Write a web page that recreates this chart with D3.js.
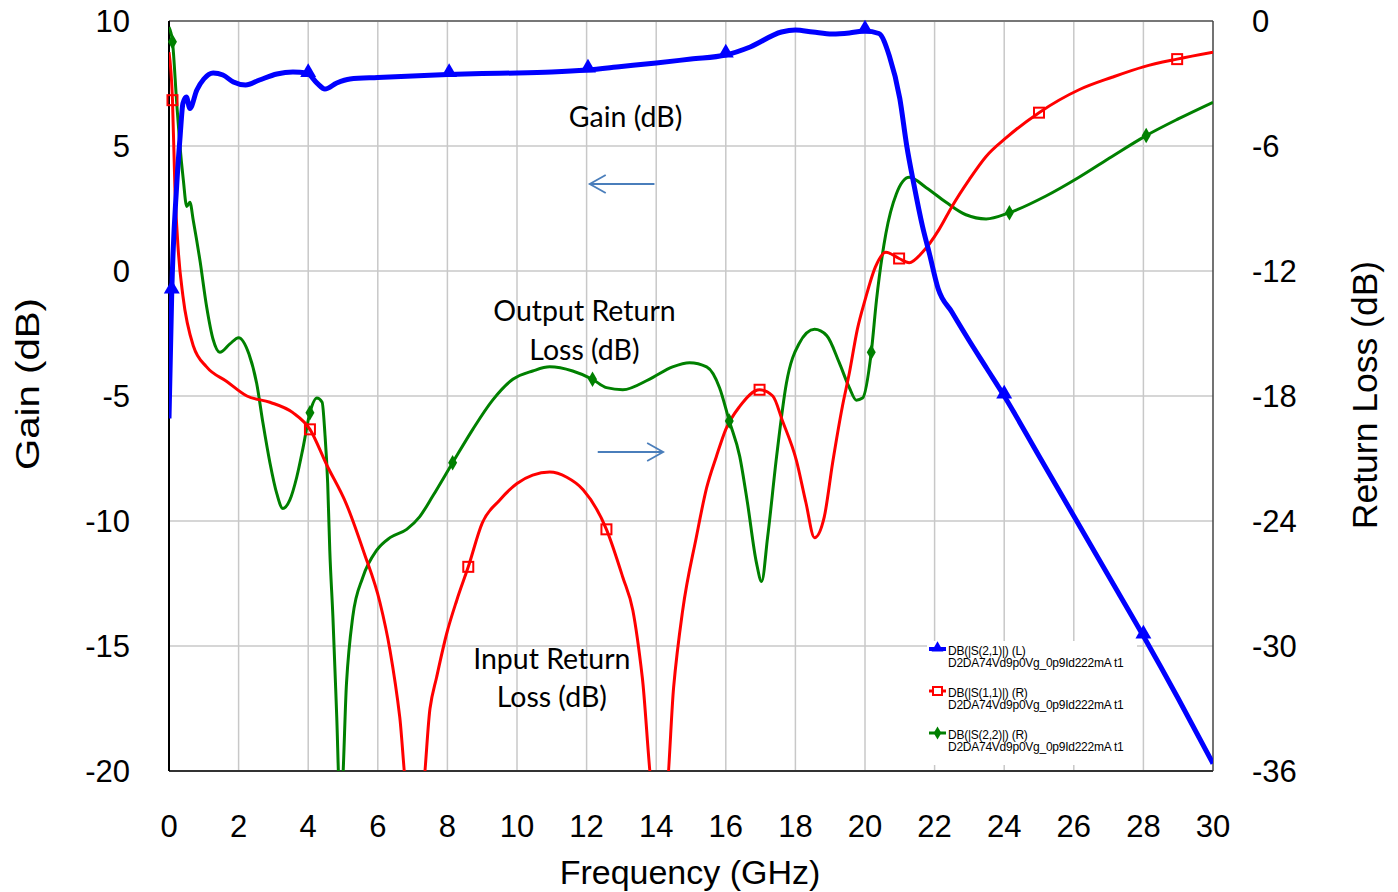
<!DOCTYPE html>
<html>
<head>
<meta charset="utf-8">
<script src="https://cdn.jsdelivr.net/npm/d3@7"></script>
<style>
  body { margin: 0; background: #fff; }
  svg { display: block; }
</style>
</head>
<body>
<div id="chart"></div>
<script>
// Gain S21 (left axis)
const s21Freq = [0, 0.08, 0.22, 0.32, 0.4, 0.5, 0.6, 0.8, 1.0, 1.27, 1.55, 1.85, 2.2, 2.6, 3.1, 3.56, 3.96, 4.25, 4.48, 4.82, 5.2, 6, 7, 8, 9, 10, 11, 12, 13, 14, 15, 16, 16.7, 17.6, 18, 18.5, 19.06, 19.55, 20, 20.4, 20.7, 21.0, 21.2, 21.4, 21.65, 21.85, 22.1, 22.5, 23.0, 23.5, 24, 25, 26, 27, 28, 29, 30];
const s21Gain = [-5.9, -0.8, 3.4, 5.4, 6.7, 6.96, 6.5, 7.24, 7.68, 7.92, 7.84, 7.56, 7.44, 7.64, 7.88, 7.96, 7.92, 7.52, 7.28, 7.52, 7.68, 7.74, 7.8, 7.86, 7.9, 7.92, 7.96, 8.04, 8.18, 8.32, 8.48, 8.64, 8.96, 9.56, 9.64, 9.56, 9.48, 9.52, 9.6, 9.5, 8.6, 6.9, 5.0, 3.5, 1.8, 0.7, -0.7, -1.65, -2.8, -3.9, -5.0, -7.4, -9.8, -12.2, -14.6, -17.1, -19.7];

// Input return loss S11 (right axis)
const s11Freq = [0, 0.1, 0.17, 0.27, 0.4, 0.7, 1.08, 1.66, 2.24, 2.9, 3.56, 4.05, 4.53, 5.1, 5.6, 6.06, 6.35, 6.63, 6.85, 7.27, 7.5, 7.69, 7.98, 8.27, 8.6, 9.0, 9.5, 10.0, 10.45, 10.94, 11.43, 11.9, 12.57, 13.04, 13.33, 13.6, 13.92, 14.28, 14.5, 14.76, 15.15, 15.45, 15.73, 16.0, 16.4, 16.97, 17.35, 17.63, 18.03, 18.3, 18.55, 18.83, 19.07, 19.35, 19.55, 19.78, 20.0, 20.3, 20.6, 20.98, 21.27, 21.65, 22.13, 22.5, 23.0, 23.48, 24.06, 25.0, 26.15, 27.1, 28.0, 28.97, 30];
const s11Loss = [-1.5, -3.8, -8.0, -11.1, -13.2, -15.6, -16.6, -17.3, -18.0, -18.3, -18.8, -19.6, -21.3, -23.2, -25.5, -27.9, -30.2, -33.4, -37, -37, -33.0, -31.5, -29.4, -27.8, -26.2, -24.1, -23.0, -22.2, -21.8, -21.65, -21.9, -22.5, -24.4, -26.7, -28.3, -31.5, -37, -37, -32, -28.3, -24.8, -22.4, -20.9, -19.6, -18.5, -17.7, -18.0, -19.2, -21.1, -23.1, -24.8, -23.8, -21.2, -18.5, -16.9, -14.8, -13.4, -11.8, -11.1, -11.4, -11.6, -11.1, -10.0, -8.9, -7.6, -6.5, -5.6, -4.4, -3.3, -2.7, -2.2, -1.83, -1.5];

// Output return loss S22 (right axis)
const s22Freq = [0, 0.1, 0.22, 0.31, 0.41, 0.51, 0.6, 0.7, 0.89, 1.08, 1.27, 1.46, 1.75, 2.0, 2.3, 2.52, 2.7, 2.9, 3.1, 3.27, 3.47, 3.67, 3.85, 4.05, 4.25, 4.4, 4.48, 4.56, 4.62, 4.71, 4.82, 4.9, 4.96, 5.1, 5.28, 5.57, 5.97, 6.35, 6.83, 7.2, 7.58, 8.15, 8.73, 9.3, 9.88, 10.45, 10.94, 11.6, 12.17, 12.57, 13.04, 13.8, 14.47, 14.96, 15.45, 15.82, 16.1, 16.4, 16.62, 16.88, 17.03, 17.2, 17.46, 17.74, 18.1, 18.55, 18.9, 19.26, 19.55, 19.75, 19.93, 20.18, 20.33, 20.6, 20.9, 21.27, 21.76, 22.33, 22.9, 23.48, 24.15, 25.2, 26.15, 27.1, 28.08, 29, 30];
const s22Loss = [-0.3, -1.0, -3.9, -5.9, -7.6, -8.9, -8.7, -9.6, -11.5, -13.7, -15.3, -15.9, -15.5, -15.2, -16.0, -17.4, -19.3, -21.2, -22.7, -23.4, -23.0, -21.9, -20.5, -18.8, -18.1, -18.3, -19.8, -22.2, -25.4, -28.6, -33.4, -37, -37, -31.8, -28.6, -26.7, -25.4, -24.8, -24.4, -23.8, -22.8, -21.2, -19.6, -18.2, -17.2, -16.8, -16.6, -16.8, -17.2, -17.6, -17.7, -17.2, -16.6, -16.4, -16.6, -17.6, -19.2, -20.9, -23.1, -26.0, -26.9, -24.8, -20.9, -17.4, -15.5, -14.8, -15.1, -16.4, -17.6, -18.2, -18.1, -15.9, -13.4, -10.2, -8.3, -7.5, -8.0, -8.7, -9.3, -9.5, -9.2, -8.4, -7.5, -6.5, -5.5, -4.7, -3.9];

// marker frequencies
const s21Markers = [0.08, 4.0, 8.05, 12.04, 16.0, 20.0, 24.0, 28.0];
const s11Markers = [0.1, 4.05, 8.6, 12.57, 16.97, 20.98, 25.0, 28.97];
const s22Markers = [0.1, 4.05, 8.15, 12.17, 16.1, 20.18, 24.15, 28.08];

// ticks
const freqTicks = [0, 2, 4, 6, 8, 10, 12, 14, 16, 18, 20, 22, 24, 26, 28, 30];
const gainTicks = [10, 5, 0, -5, -10, -15, -20];
const lossTicks = [0, -6, -12, -18, -24, -30, -36];

const legendNames = ["DB(|S(2,1)|) (L)", "DB(|S(1,1)|) (R)", "DB(|S(2,2)|) (R)"];
const legendSub = "D2DA74Vd9p0Vg_0p9Id222mA t1";

const W = 1398, H = 892;
const x0 = 169, x1 = 1213, yTop = 21, yBot = 771;

const svg = d3.select("#chart").append("svg")
    .attr("width", W).attr("height", H);

const x = d3.scaleLinear().domain([0, 30]).range([x0, x1]);
const yL = d3.scaleLinear().domain([-20, 10]).range([yBot, yTop]);
const yR = d3.scaleLinear().domain([-36, 0]).range([yBot, yTop]);

const gridColor = "#c8c8c8";

// gridlines
svg.append("g").selectAll("line").data(freqTicks.slice(1, -1)).join("line")
    .attr("x1", d => x(d)).attr("x2", d => x(d))
    .attr("y1", yTop).attr("y2", yBot)
    .attr("stroke", gridColor).attr("stroke-width", 1.5);
svg.append("g").selectAll("line").data(gainTicks.slice(1, -1)).join("line")
    .attr("x1", x0).attr("x2", x1)
    .attr("y1", d => yL(d)).attr("y2", d => yL(d))
    .attr("stroke", gridColor).attr("stroke-width", 1.5);

// frame
svg.append("line").attr("x1", x0).attr("x2", x1).attr("y1", yTop).attr("y2", yTop)
    .attr("stroke", "#777").attr("stroke-width", 2);
svg.append("line").attr("x1", x1).attr("x2", x1).attr("y1", yTop).attr("y2", yBot)
    .attr("stroke", "#444").attr("stroke-width", 1.5);
svg.append("line").attr("x1", x0).attr("x2", x1).attr("y1", yBot).attr("y2", yBot)
    .attr("stroke", "#333").attr("stroke-width", 2);
svg.append("line").attr("x1", x0).attr("x2", x0).attr("y1", yTop).attr("y2", yBot)
    .attr("stroke", "#000").attr("stroke-width", 2);

// tick labels
const tickFont = "'Liberation Sans', Arial, sans-serif";
svg.append("g").selectAll("text").data(gainTicks).join("text")
    .attr("x", 130).attr("y", d => yL(d)).attr("dy", "0.36em")
    .attr("text-anchor", "end")
    .style("font-family", tickFont).style("font-size", "31px")
    .text(d => d);
svg.append("g").selectAll("text").data(lossTicks).join("text")
    .attr("x", 1252).attr("y", d => yR(d)).attr("dy", "0.36em")
    .attr("text-anchor", "start")
    .style("font-family", tickFont).style("font-size", "31px")
    .text(d => d);
svg.append("g").selectAll("text").data(freqTicks).join("text")
    .attr("x", d => x(d)).attr("y", 837)
    .attr("text-anchor", "middle")
    .style("font-family", tickFont).style("font-size", "31px")
    .text(d => d);

// axis titles
svg.append("text").attr("x", 690).attr("y", 884).attr("text-anchor", "middle")
    .style("font-family", tickFont).style("font-size", "34px").text("Frequency (GHz)");
svg.append("text").attr("transform", "translate(39,384) rotate(-90)").attr("text-anchor", "middle")
    .attr("textLength", 172).attr("lengthAdjust", "spacingAndGlyphs")
    .style("font-family", tickFont).style("font-size", "34px").text("Gain (dB)");
svg.append("text").attr("transform", "translate(1377,395) rotate(-90)").attr("text-anchor", "middle")
    .style("font-family", tickFont).style("font-size", "35.5px").text("Return Loss (dB)");

// clip
svg.append("clipPath").attr("id", "plotClip").append("rect")
    .attr("x", x0).attr("y", yTop).attr("width", x1 - x0).attr("height", yBot - yTop);

const plot = svg.append("g").attr("clip-path", "url(#plotClip)");

function series(fs, vs) { return fs.map((f, i) => [f, vs[i]]); }
function interp(fs, vs, f) {
    const i = Math.max(1, d3.bisectLeft(fs, f));
    const t = (f - fs[i - 1]) / (fs[i] - fs[i - 1]);
    return vs[i - 1] + t * (vs[i] - vs[i - 1]);
}

const lineL = d3.line().x(d => x(d[0])).y(d => yL(d[1])).curve(d3.curveMonotoneX);
const lineR = d3.line().x(d => x(d[0])).y(d => yR(d[1])).curve(d3.curveMonotoneX);

const green = "#008000", red = "#ff0000", blue = "#0000ff";

plot.append("path").datum(series(s22Freq, s22Loss)).attr("d", lineR)
    .attr("fill", "none").attr("stroke", green).attr("stroke-width", 3).attr("stroke-linejoin", "round");
plot.append("path").datum(series(s11Freq, s11Loss)).attr("d", lineR)
    .attr("fill", "none").attr("stroke", red).attr("stroke-width", 3).attr("stroke-linejoin", "round");
plot.append("path").datum(series(s21Freq, s21Gain)).attr("d", lineL)
    .attr("fill", "none").attr("stroke", blue).attr("stroke-width", 5).attr("stroke-linejoin", "round");

// markers
const tri = d3.symbol().type(d3.symbolTriangle).size(110);
const dia = d3.symbol().type(d3.symbolDiamond).size(70);

svg.append("g").selectAll("path").data(s22Markers).join("path")
    .attr("d", dia)
    .attr("transform", d => `translate(${x(d)},${yR(interp(s22Freq, s22Loss, d))})`)
    .attr("fill", green);
svg.append("g").selectAll("rect").data(s11Markers).join("rect")
    .attr("x", d => x(d) - 5).attr("y", d => yR(interp(s11Freq, s11Loss, d)) - 5)
    .attr("width", 10).attr("height", 10)
    .attr("fill", "none").attr("stroke", red).attr("stroke-width", 2);
svg.append("g").selectAll("path").data(s21Markers).join("path")
    .attr("d", tri)
    .attr("transform", d => `translate(${x(d)},${yL(interp(s21Freq, s21Gain, d)) - 2})`)
    .attr("fill", blue);

// annotations
const annFont = "Lato, 'Open Sans', sans-serif";
function ann(f, g, txt) {
    svg.append("text").attr("x", x(f)).attr("y", yL(g)).attr("text-anchor", "middle")
        .style("font-family", annFont).style("font-size", "28.5px").style("fill", "#000")
        .text(txt);
}
ann(13.12, 5.75, "Gain (dB)");
ann(11.94, -2.0, "Output Return");
ann(11.94, -3.55, "Loss (dB)");
ann(11.0, -15.9, "Input Return");
ann(11.0, -17.45, "Loss (dB)");

// arrows
const arrowColor = "#4a7ebb";
function arrow(fa, fb, g, dir) {
    const xa = x(fa), xb = x(fb), yy = yL(g);
    svg.append("line").attr("x1", xa).attr("x2", xb).attr("y1", yy).attr("y2", yy)
        .attr("stroke", arrowColor).attr("stroke-width", 1.8);
    svg.append("path")
        .attr("d", `M${xb - dir * 16},${yy - 9} L${xb},${yy} L${xb - dir * 16},${yy + 9}`)
        .attr("fill", "none").attr("stroke", arrowColor).attr("stroke-width", 1.8);
}
arrow(13.95, 12.09, 3.48, -1);
arrow(12.32, 14.2, -7.24, 1);

// legend
const lg = svg.append("g");
lg.append("rect").attr("x", 927).attr("y", 641).attr("width", 210).attr("height", 124).attr("fill", "#fff");
const legendY = [649, 691, 733];
const legendColor = [blue, red, green];
legendNames.forEach((name, i) => {
    const yy = legendY[i];
    lg.append("line").attr("x1", 929).attr("x2", 946).attr("y1", yy).attr("y2", yy)
        .attr("stroke", legendColor[i]).attr("stroke-width", i === 0 ? 4 : 3);
    if (i === 0) lg.append("path").attr("d", d3.symbol().type(d3.symbolTriangle).size(60))
        .attr("transform", `translate(937.5,${yy - 1})`).attr("fill", blue);
    if (i === 1) lg.append("rect").attr("x", 933).attr("y", yy - 4).attr("width", 9).attr("height", 8)
        .attr("fill", "#fff").attr("stroke", red).attr("stroke-width", 2);
    if (i === 2) lg.append("path").attr("d", d3.symbol().type(d3.symbolDiamond).size(50))
        .attr("transform", `translate(937.5,${yy})`).attr("fill", green);
    lg.append("text").attr("x", 948).attr("y", yy + 6)
        .style("font-family", tickFont).style("font-size", "12px").style("letter-spacing", "-0.25px")
        .text(name);
    lg.append("text").attr("x", 948).attr("y", yy + 18)
        .style("font-family", tickFont).style("font-size", "12px").style("letter-spacing", "-0.25px")
        .text(legendSub);
});
</script>
</body>
</html>
